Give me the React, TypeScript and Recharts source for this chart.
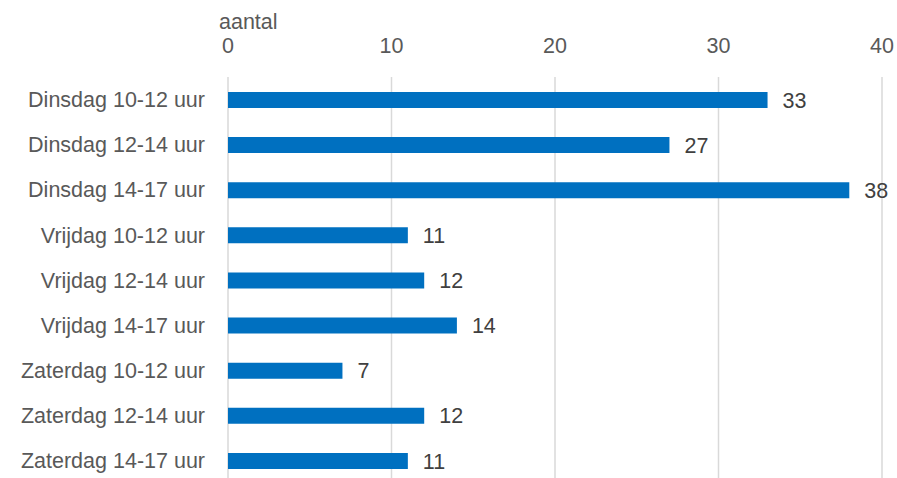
import { Bar, BarChart, CartesianGrid, LabelList, XAxis, YAxis } from "recharts";

const slots = [
  "Dinsdag 10-12 uur",
  "Dinsdag 12-14 uur",
  "Dinsdag 14-17 uur",
  "Vrijdag 10-12 uur",
  "Vrijdag 12-14 uur",
  "Vrijdag 14-17 uur",
  "Zaterdag 10-12 uur",
  "Zaterdag 12-14 uur",
  "Zaterdag 14-17 uur",
];
const aantallen = [33, 27, 38, 11, 12, 14, 7, 12, 11];
const xTicks = [0, 10, 20, 30, 40];

const data = slots.map((slot, i) => ({ slot, aantal: aantallen[i] }));

const FONT = "'Liberation Sans', Arial, sans-serif";
const TEXT = "#595959";
const FS = 21.5;

export default function App() {
  return (
    <div
      style={{
        position: "fixed",
        top: 0,
        left: 0,
        width: 897,
        height: 478,
        overflow: "hidden",
        background: "#fff",
        fontFamily: FONT,
      }}
    >
      <BarChart
        width={897}
        height={483}
        data={data}
        layout="vertical"
        margin={{ top: 17, right: 15, bottom: 0, left: 0 }}
      >
        <CartesianGrid horizontal={false} stroke="#d9d9d9" strokeWidth={1.5} />
        <XAxis
          type="number"
          orientation="top"
          domain={[0, 40]}
          ticks={xTicks}
          axisLine={false}
          tickLine={false}
          height={60}
          tickMargin={18}
          tick={{ fontSize: FS, fill: TEXT, fontFamily: FONT }}
          label={{
            content: (props: any) => (
              <text
                x={props.viewBox.x - 9}
                y={props.viewBox.y + 12}
                fontSize={FS}
                fill={TEXT}
                fontFamily={FONT}
                textAnchor="start"
              >
                aantal
              </text>
            ),
          }}
        />
        <YAxis
          type="category"
          dataKey="slot"
          width={228}
          axisLine={false}
          tickLine={false}
          tickMargin={17}
          interval={0}
          tick={{ fontSize: FS, fill: TEXT, fontFamily: FONT }}
        />
        <Bar dataKey="aantal" fill="#0070c0" barSize={16} isAnimationActive={false}>
          <LabelList
            dataKey="aantal"
            position="right"
            offset={15}
            style={{ fontSize: FS, fill: "#404040", fontFamily: FONT }}
          />
        </Bar>
      </BarChart>
    </div>
  );
}
